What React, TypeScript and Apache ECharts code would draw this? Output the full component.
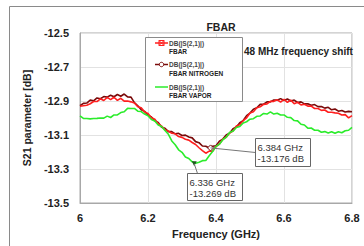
import React, { useEffect, useRef } from "react";
import * as echarts from "echarts";

const FREQ = [
  6.0, 6.01, 6.02, 6.03, 6.04, 6.05, 6.06, 6.07, 6.08, 6.09,
  6.1, 6.11, 6.12, 6.13, 6.14, 6.15, 6.16, 6.17, 6.18, 6.19,
  6.2, 6.21, 6.22, 6.23, 6.24, 6.25, 6.26, 6.27, 6.28, 6.29,
  6.3, 6.31, 6.32, 6.33, 6.34, 6.35, 6.36, 6.37, 6.38, 6.39,
  6.4, 6.41, 6.42, 6.43, 6.44, 6.45, 6.46, 6.47, 6.48, 6.49,
  6.5, 6.51, 6.52, 6.53, 6.54, 6.55, 6.56, 6.57, 6.58, 6.59,
  6.6, 6.61, 6.62, 6.63, 6.64, 6.65, 6.66, 6.67, 6.68, 6.69,
  6.7, 6.71, 6.72, 6.73, 6.74, 6.75, 6.76, 6.77, 6.78, 6.79,
  6.8,
];

const FBAR = [
  -12.931, -12.928, -12.925, -12.916, -12.903, -12.903, -12.887, -12.897, -12.879, -12.892,
  -12.878, -12.896, -12.884, -12.901, -12.9, -12.905, -12.912, -12.934, -12.94, -12.964,
  -12.974, -12.998, -13.007, -13.034, -13.048, -13.07, -13.077, -13.09, -13.093, -13.109,
  -13.114, -13.125, -13.13, -13.144, -13.156, -13.175, -13.192, -13.207, -13.195, -13.196,
  -13.168, -13.153, -13.125, -13.114, -13.088, -13.077, -13.047, -13.04, -13.015, -12.999,
  -12.971, -12.963, -12.94, -12.934, -12.92, -12.917, -12.902, -12.902, -12.893, -12.906,
  -12.891, -12.908, -12.895, -12.916, -12.908, -12.923, -12.919, -12.93, -12.93, -12.944,
  -12.944, -12.955, -12.953, -12.966, -12.966, -12.97, -12.972, -12.982, -12.98, -12.999,
  -12.986,
];

const NITROGEN = [
  -12.928, -12.914, -12.912, -12.895, -12.899, -12.882, -12.887, -12.874, -12.877, -12.866,
  -12.875, -12.862, -12.872, -12.859, -12.876, -12.877, -12.91, -12.928, -12.951, -12.961,
  -12.983, -12.994, -13.017, -13.027, -13.054, -13.06, -13.08, -13.08, -13.093, -13.09,
  -13.103, -13.101, -13.112, -13.117, -13.139, -13.145, -13.165, -13.166, -13.176, -13.166,
  -13.163, -13.136, -13.124, -13.1, -13.089, -13.063, -13.053, -13.028, -13.015, -12.986,
  -12.971, -12.948, -12.94, -12.92, -12.919, -12.905, -12.905, -12.894, -12.895, -12.886,
  -12.897, -12.888, -12.9, -12.895, -12.909, -12.905, -12.917, -12.916, -12.925, -12.921,
  -12.933, -12.932, -12.942, -12.937, -12.952, -12.947, -12.96, -12.956, -12.965, -12.961,
  -12.963,
];

const VAPOR = [
  -12.987, -13.002, -13.003, -13.005, -13.003, -13.002, -13.0, -13.001, -12.989, -12.997,
  -12.982, -12.982, -12.968, -12.963, -12.943, -12.944, -12.944, -12.96, -12.962, -12.977,
  -12.987, -13.009, -13.018, -13.041, -13.05, -13.074, -13.096, -13.135, -13.157, -13.187,
  -13.202, -13.229, -13.238, -13.258, -13.266, -13.26, -13.251, -13.25, -13.222, -13.197,
  -13.167, -13.154, -13.128, -13.113, -13.085, -13.077, -13.056, -13.05, -13.029, -13.022,
  -13.007, -13.004, -12.99, -12.988, -12.973, -12.977, -12.964, -12.977, -12.972, -12.982,
  -12.982, -12.996, -12.998, -13.015, -13.017, -13.037, -13.041, -13.06, -13.059, -13.072,
  -13.072, -13.084, -13.08, -13.088, -13.081, -13.09, -13.081, -13.087, -13.075, -13.072,
  -13.055,
];

const Y_TICKS = [-13.5, -13.3, -13.1, -12.9, -12.7, -12.5];
const SERIES_NAMES = ["DB(|S(2,1)|)\nFBAR", "DB(|S(2,1)|)\nFBAR NITROGEN", "DB(|S(2,1)|)\nFBAR VAPOR"];
const MARK_NITROGEN = [6.384, -13.176];
const MARK_VAPOR = [6.336, -13.269];

const FONT = "Liberation Sans, Arial, sans-serif";
const C_RED = "#ff1f1f";
const C_DARK = "#7a0a0a";
const C_GREEN = "#2bec2b";

const pairs = (ys: number[]) => FREQ.map((f, i) => [f, ys[i]]);

export default function App() {
  const ref = useRef<HTMLDivElement>(null);
  useEffect(() => {
    if (!ref.current) return;
    const chart = echarts.init(ref.current, null, { renderer: "svg" });
    chart.setOption({
      animation: false,
      backgroundColor: "#fff",
      title: {
        text: "FBAR",
        left: 216,
        textAlign: "center",
        top: 16,
        textStyle: { fontFamily: FONT, fontSize: 10.5, fontWeight: "bold", color: "#222" },
      },
      grid: {
        left: 80,
        right: 12,
        top: 33,
        bottom: 43,
        show: true,
        borderColor: "#a8a8a8",
        borderWidth: 1,
      },
      xAxis: {
        type: "value",
        min: 6,
        max: 6.8,
        interval: 0.2,
        name: "Frequency (GHz)",
        nameLocation: "middle",
        nameGap: 25,
        nameTextStyle: { fontFamily: FONT, fontSize: 11, fontWeight: "bold", color: "#222" },
        axisLine: { lineStyle: { color: "#a8a8a8" } },
        axisTick: { show: false },
        axisLabel: { fontFamily: FONT, fontSize: 11, fontWeight: "bold", color: "#222", margin: 9 },
        splitLine: { lineStyle: { color: "#e2e2e2" } },
      },
      yAxis: {
        type: "value",
        min: -13.5,
        max: -12.5,
        name: "S21 parameter [dB]",
        nameLocation: "middle",
        nameGap: 48,
        nameTextStyle: { fontFamily: FONT, fontSize: 10.5, fontWeight: "bold", color: "#222" },
        axisLine: { show: true, lineStyle: { color: "#a8a8a8" } },
        axisTick: { show: false, customValues: Y_TICKS },
        axisLabel: {
          customValues: Y_TICKS,
          fontFamily: FONT,
          fontSize: 11,
          fontWeight: "bold",
          color: "#222",
          margin: 11,
          formatter: (v: number) => v.toFixed(1),
        },
        splitLine: { lineStyle: { color: "#e2e2e2" } },
      },
      series: [
        {
          name: SERIES_NAMES[1],
          type: "line",
          data: pairs(NITROGEN),
          showSymbol: false,
          lineStyle: { color: C_DARK, width: 1.6 },
          itemStyle: { color: C_DARK },
          markPoint: {
            symbol: "diamond",
            symbolSize: 6,
            itemStyle: { color: "#fff", borderColor: C_DARK, borderWidth: 1 },
            label: { show: false },
            data: [{ coord: MARK_NITROGEN }],
          },
        },
        {
          name: SERIES_NAMES[0],
          type: "line",
          data: pairs(FBAR),
          showSymbol: false,
          lineStyle: { color: C_RED, width: 1.6 },
          itemStyle: { color: C_RED },
        },
        {
          name: SERIES_NAMES[2],
          type: "line",
          data: pairs(VAPOR),
          showSymbol: false,
          lineStyle: { color: C_GREEN, width: 1.6 },
          itemStyle: { color: C_GREEN },
          markPoint: {
            symbol: "triangle",
            symbolRotate: 180,
            symbolSize: 5,
            itemStyle: { color: "#1c5a1c" },
            label: { show: false },
            data: [{ coord: MARK_VAPOR }],
          },
        },
      ],
    });

    const p1 = chart.convertToPixel({ gridIndex: 0 }, MARK_NITROGEN) as number[];
    const p2 = chart.convertToPixel({ gridIndex: 0 }, MARK_VAPOR) as number[];
    const b1 = { x: Math.round(p1[0] + 44) + 0.5, y: Math.round(p1[1] - 10) + 0.5, w: 55, h: 28 };
    const b2 = { x: Math.round(p2[0] - 7) + 0.5, y: Math.round(p2[1] + 9) + 0.5, w: 55, h: 27 };

    const legendTop = [43, 64.5, 87];
    const legendColors = [C_RED, C_DARK, C_GREEN];
    const legendEls: any[] = [
      {
        type: "rect",
        shape: { x: 145.5, y: 37.5, width: 97, height: 64 },
        style: { fill: "#fff", stroke: "#8a8a8a", lineWidth: 1 },
        z: 10,
      },
    ];
    SERIES_NAMES.forEach((n, i) => {
      const y = legendTop[i];
      legendEls.push({
        type: "line",
        shape: { x1: 155, y1: y, x2: 168, y2: y },
        style: { stroke: legendColors[i], lineWidth: 1.5 },
        z: 11,
      });
      const lines = n.split("\n");
      legendEls.push({
        type: "text",
        x: 169,
        y: y,
        style: {
          text: lines[0],
          fontFamily: FONT,
          fontSize: 6.5,
          fontWeight: "bold",
          fill: "#444",
          verticalAlign: "middle",
        },
        z: 11,
      });
      legendEls.push({
        type: "text",
        x: 169,
        y: y + 8.5,
        style: {
          text: lines[1],
          fontFamily: FONT,
          fontSize: 6.5,
          fontWeight: "bold",
          fill: "#222",
          verticalAlign: "middle",
        },
        z: 11,
      });
    });
    legendEls.push(
      {
        type: "rect",
        shape: { x: 159, y: legendTop[0] - 2.5, width: 5, height: 5 },
        style: { fill: "none", stroke: C_RED, lineWidth: 1 },
        z: 12,
      },
      {
        type: "line",
        shape: { x1: 159, y1: legendTop[0] - 2.5, x2: 164, y2: legendTop[0] + 2.5 },
        style: { stroke: C_RED, lineWidth: 1 },
        z: 12,
      },
      {
        type: "line",
        shape: { x1: 164, y1: legendTop[0] - 2.5, x2: 159, y2: legendTop[0] + 2.5 },
        style: { stroke: C_RED, lineWidth: 1 },
        z: 12,
      },
      {
        type: "circle",
        shape: { cx: 161.5, cy: legendTop[1], r: 2.2 },
        style: { fill: "#fff", stroke: C_DARK, lineWidth: 1 },
        z: 12,
      }
    );

    const boxEls: any[] = [
      {
        type: "line",
        shape: { x1: p1[0], y1: p1[1], x2: b1.x, y2: b1.y + 14 },
        style: { stroke: "#777", lineWidth: 1 },
        z: 10,
      },
      {
        type: "rect",
        shape: { x: b1.x, y: b1.y, width: b1.w, height: b1.h },
        style: { fill: "#fff", stroke: "#666", lineWidth: 1 },
        z: 10,
      },
      {
        type: "text",
        x: b1.x + 2,
        y: b1.y + 9,
        style: { text: "6.384 GHz", fontFamily: FONT, fontSize: 9.5, fill: "#333", verticalAlign: "middle" },
        z: 11,
      },
      {
        type: "text",
        x: b1.x + 2,
        y: b1.y + 20,
        style: { text: "-13.176 dB", fontFamily: FONT, fontSize: 9.5, fill: "#333", verticalAlign: "middle" },
        z: 11,
      },
      {
        type: "line",
        shape: { x1: p2[0], y1: p2[1], x2: b2.x + 10, y2: b2.y },
        style: { stroke: "#777", lineWidth: 1 },
        z: 10,
      },
      {
        type: "rect",
        shape: { x: b2.x, y: b2.y, width: b2.w, height: b2.h },
        style: { fill: "#fff", stroke: "#666", lineWidth: 1 },
        z: 10,
      },
      {
        type: "text",
        x: b2.x + 2,
        y: b2.y + 8.5,
        style: { text: "6.336 GHz", fontFamily: FONT, fontSize: 9.5, fill: "#333", verticalAlign: "middle" },
        z: 11,
      },
      {
        type: "text",
        x: b2.x + 2,
        y: b2.y + 19.5,
        style: { text: "-13.269 dB", fontFamily: FONT, fontSize: 9.5, fill: "#333", verticalAlign: "middle" },
        z: 11,
      },
    ];

    chart.setOption({
      graphic: [
        {
          type: "line",
          shape: { x1: 9.5, y1: 6.5, x2: 364, y2: 6.5 },
          style: { stroke: "#8a8a8a", lineWidth: 1 },
        },
        {
          type: "line",
          shape: { x1: 9.5, y1: 6.5, x2: 9.5, y2: 246 },
          style: { stroke: "#8a8a8a", lineWidth: 1 },
        },
        {
          type: "text",
          x: 244,
          y: 51.5,
          style: {
            text: "48 MHz frequency shift",
            fontFamily: FONT,
            fontSize: 10,
            fontWeight: "bold",
            fill: "#222",
            verticalAlign: "middle",
          },
          z: 11,
        },
        ...legendEls,
        ...boxEls,
      ],
    });

    return () => chart.dispose();
  }, []);
  return (
    <div
      ref={ref}
      style={{ position: "fixed", left: 0, top: 0, width: 364, height: 246 }}
    />
  );
}
